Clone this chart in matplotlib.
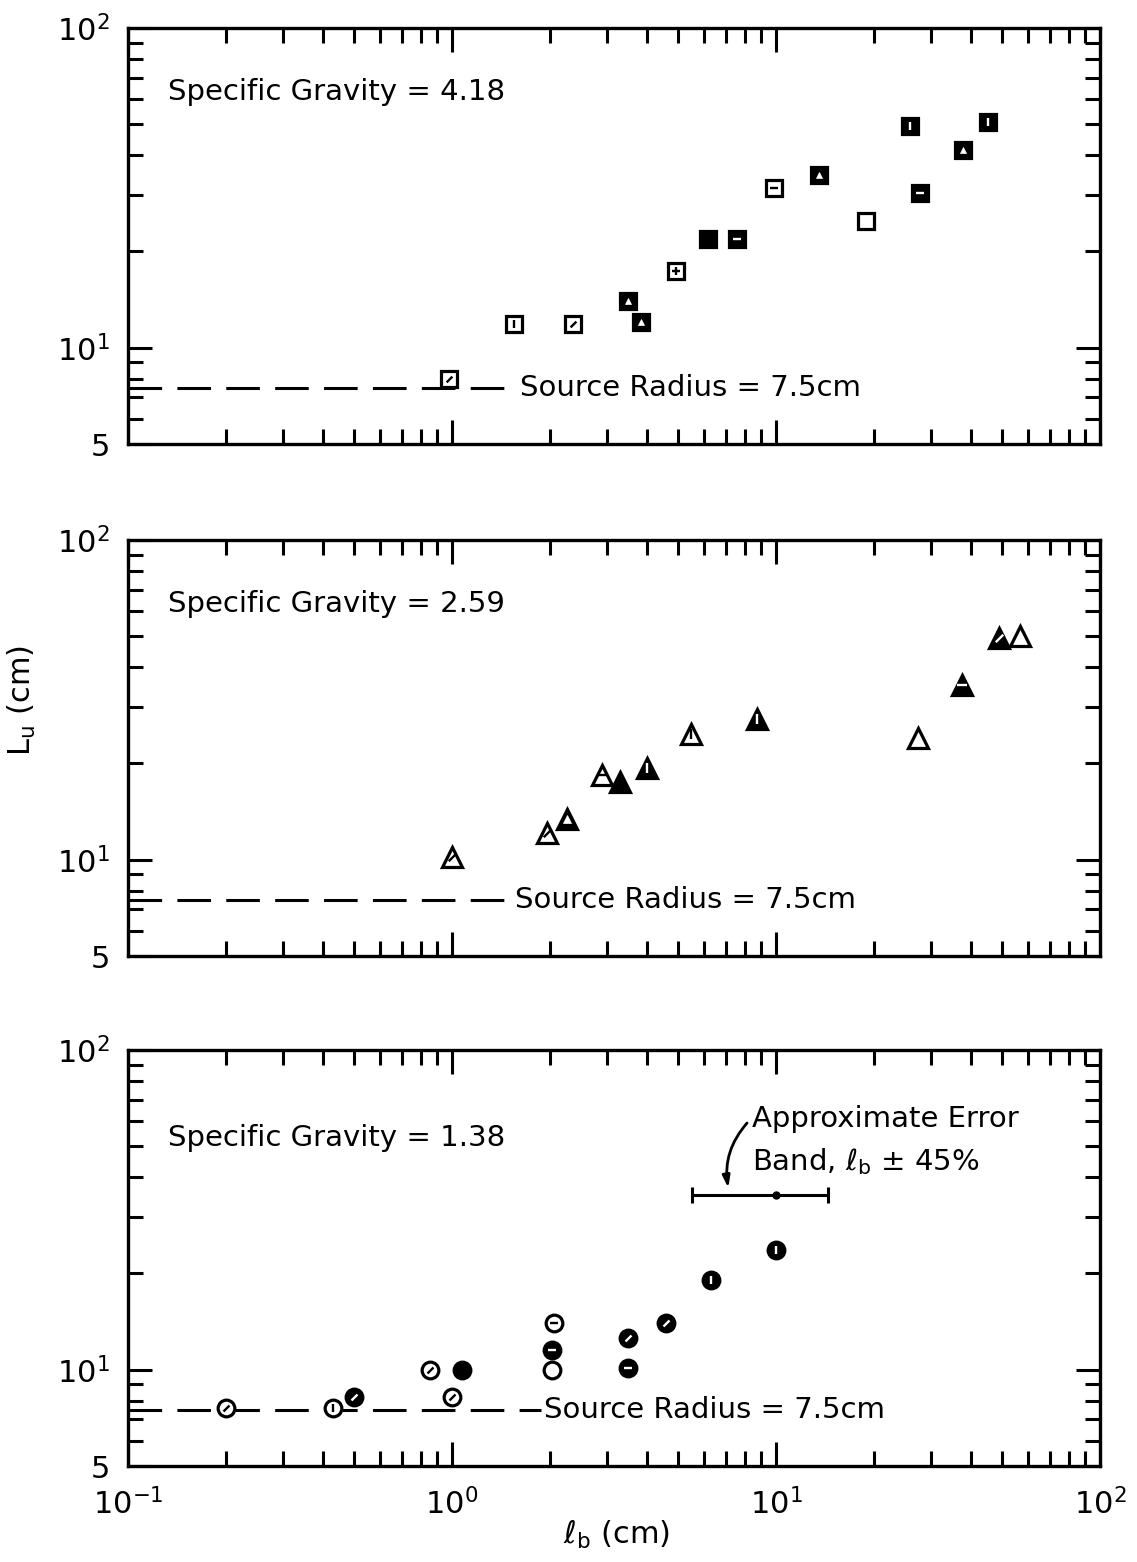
import numpy as np
import matplotlib
matplotlib.use('Agg')
import matplotlib.pyplot as plt
from matplotlib.path import Path
from matplotlib.ticker import NullFormatter, FixedLocator, FixedFormatter, LogLocator

# ---------------- data ----------------
sg_labels = ['4.18', '2.59', '1.38']

top_x = [0.98, 1.55, 2.37, 3.5, 3.82, 4.9, 6.15, 7.6, 9.86, 13.6, 18.9, 26.0, 27.9, 37.9, 45.0]
top_y = [8.0, 11.9, 11.9, 14.0, 12.0, 17.4, 21.9, 21.9, 31.5, 34.8, 24.9, 49.5, 30.4, 41.4, 50.9]
top_fill = ['od', 'ov', 'od', 'ft', 'ft', 'op', 'f', 'fh', 'oh', 'ft', 'o', 'fv', 'fh', 'ft', 'fv']

mid_x = [1.0, 1.97, 2.27, 2.91, 3.31, 3.99, 5.46, 8.73, 27.5, 37.4, 48.7, 56.5]
mid_y = [10.2, 12.1, 13.4, 18.4, 17.5, 19.4, 24.7, 27.5, 24.0, 35.3, 49.2, 50.2]
mid_fill = ['od', 'od', 'ft', 'oh', 'f', 'fv', 'ov', 'fv', 'o', 'fh', 'fd', 'o']

bot_x = [0.2, 0.43, 0.5, 0.855, 1.07, 1.0, 2.07, 2.04, 2.04, 3.5, 3.5, 4.57, 6.3, 10.0]
bot_y = [7.6, 7.6, 8.2, 10.0, 10.0, 8.2, 14.0, 11.5, 10.0, 12.6, 10.1, 14.0, 19.1, 23.7]
bot_fill = ['od', 'ov', 'fd', 'od', 'f', 'od', 'oh', 'fh', 'o', 'fd', 'fh', 'fd', 'fv', 'fv']

source_radius = 7.5
source_text_x = [1.62, 1.57, 1.92]
dash_end_x = [1.52, 1.53, 1.88]

err_x = 10.0
err_y = 35.3
err_frac = 0.45

xticks = [0.1, 1, 10, 100]
xtick_labels = ['10$^{-1}$', '10$^{0}$', '10$^{1}$', '10$^{2}$']
yticks = [5, 10, 100]
ytick_labels = ['5', '10$^{1}$', '10$^{2}$']

# ---------------- fonts ----------------
plt.rcParams['font.family'] = ['DejaVu Sans']
plt.rcParams['mathtext.default'] = 'regular'
FS = 21

fig = plt.figure(figsize=(11.37, 15.62), dpi=100)

L, W = 128 / 1137, 972 / 1137
panel_tops = [28, 540, 1050]
panel_h = 416

diag = Path([(-1, -1), (1, 1)], [Path.MOVETO, Path.LINETO])

def draw_points(ax, xs, ys, fills, shape, ms):
    ew = 2.3
    for x, y, f in zip(xs, ys, fills):
        filled = f.startswith('f')
        base_fc = 'k' if filled else 'white'
        ax.plot([x], [y], marker=shape, ms=ms, mfc=base_fc, mec='k', mew=ew,
                ls='none', zorder=5)
        oc = 'white' if filled else 'k'
        sub = f[1:]
        oms = ms * 0.45
        if sub == 'v':
            ax.plot([x], [y], marker='|', ms=oms, mec=oc, mew=1.7, ls='none', zorder=6)
        elif sub == 'h':
            ax.plot([x], [y], marker='_', ms=oms, mec=oc, mew=1.7, ls='none', zorder=6)
        elif sub == 'd':
            ax.plot([x], [y], marker=diag, ms=oms * 0.8, mec=oc, mew=1.7, ls='none', zorder=6)
        elif sub == 'p':
            ax.plot([x], [y], marker='+', ms=oms, mec=oc, mew=1.7, ls='none', zorder=6)
        elif sub == 't':
            ax.plot([x], [y], marker='^', ms=oms * 0.8, mfc=oc, mec=oc, mew=0.5, ls='none', zorder=6)

axes = []
for i in range(3):
    top = panel_tops[i]
    bottom = 1 - (top + panel_h) / 1562
    ax = fig.add_axes([L, bottom, W, panel_h / 1562])
    ax.set_xscale('log')
    ax.set_yscale('log')
    ax.set_xlim(0.1, 100)
    ax.set_ylim(5, 100)
    for s in ax.spines.values():
        s.set_linewidth(2.4)
    ax.xaxis.set_major_locator(FixedLocator(xticks))
    ax.xaxis.set_minor_locator(LogLocator(base=10, subs=np.arange(2, 10)))
    ax.xaxis.set_minor_formatter(NullFormatter())
    ax.yaxis.set_major_locator(FixedLocator(yticks))
    ax.yaxis.set_minor_locator(LogLocator(base=10, subs=np.arange(2, 10)))
    ax.yaxis.set_minor_formatter(NullFormatter())
    ax.yaxis.set_major_formatter(FixedFormatter(ytick_labels))
    if i == 2:
        ax.xaxis.set_major_formatter(FixedFormatter(xtick_labels))
    else:
        ax.xaxis.set_major_formatter(NullFormatter())
    ax.tick_params(which='both', direction='in', top=True, right=True, width=2.2)
    ax.tick_params(which='major', length=17)
    ax.tick_params(which='minor', length=11)
    ax.tick_params(axis='y', which='major', pad=13, labelsize=22)
    ax.tick_params(axis='x', which='major', pad=16, labelsize=22)

    # source radius line
    ax.plot([0.1, dash_end_x[i]], [source_radius, source_radius], color='k', lw=2.2,
            dashes=(11, 5), zorder=2)
    ax.text(source_text_x[i], source_radius, 'Source Radius = 7.5cm', fontsize=FS,
            va='center', ha='left')
    ty = 0.846 if i < 2 else 0.788
    ax.text(0.041, ty, 'Specific Gravity = ' + sg_labels[i], transform=ax.transAxes,
            fontsize=FS, va='center', ha='left')
    axes.append(ax)

draw_points(axes[0], top_x, top_y, top_fill, 's', 11.5)
draw_points(axes[1], mid_x, mid_y, mid_fill, '^', 15)
draw_points(axes[2], bot_x, bot_y, bot_fill, 'o', 12)

ax = axes[2]
ax.errorbar([err_x], [err_y], xerr=[[err_x * err_frac], [err_x * err_frac]], fmt='o',
            ms=5, color='k', elinewidth=2.2, capsize=5.5, capthick=2.2, zorder=5)
ax.annotate('', xy=(7.15, 36.3), xytext=(8.25, 60),
            arrowprops=dict(arrowstyle='-|>,head_length=0.7,head_width=0.22',
                            connectionstyle='arc3,rad=0.25', lw=2, color='k'))
ax.text(8.45, 61, 'Approximate Error', fontsize=FS, va='center', ha='left')
ax.text(8.45, 44.8, 'Band, ℓ$_b$ ± 45%', fontsize=FS, va='center', ha='left')

fig.text(22 / 1137, 1 - 700 / 1562, 'L$_u$ (cm)', rotation=90, fontsize=22,
         ha='center', va='center')
fig.text(617 / 1137, 1 - 1535 / 1562, 'ℓ$_b$ (cm)', fontsize=22, ha='center', va='center')

fig.savefig('out.png', dpi=100)
